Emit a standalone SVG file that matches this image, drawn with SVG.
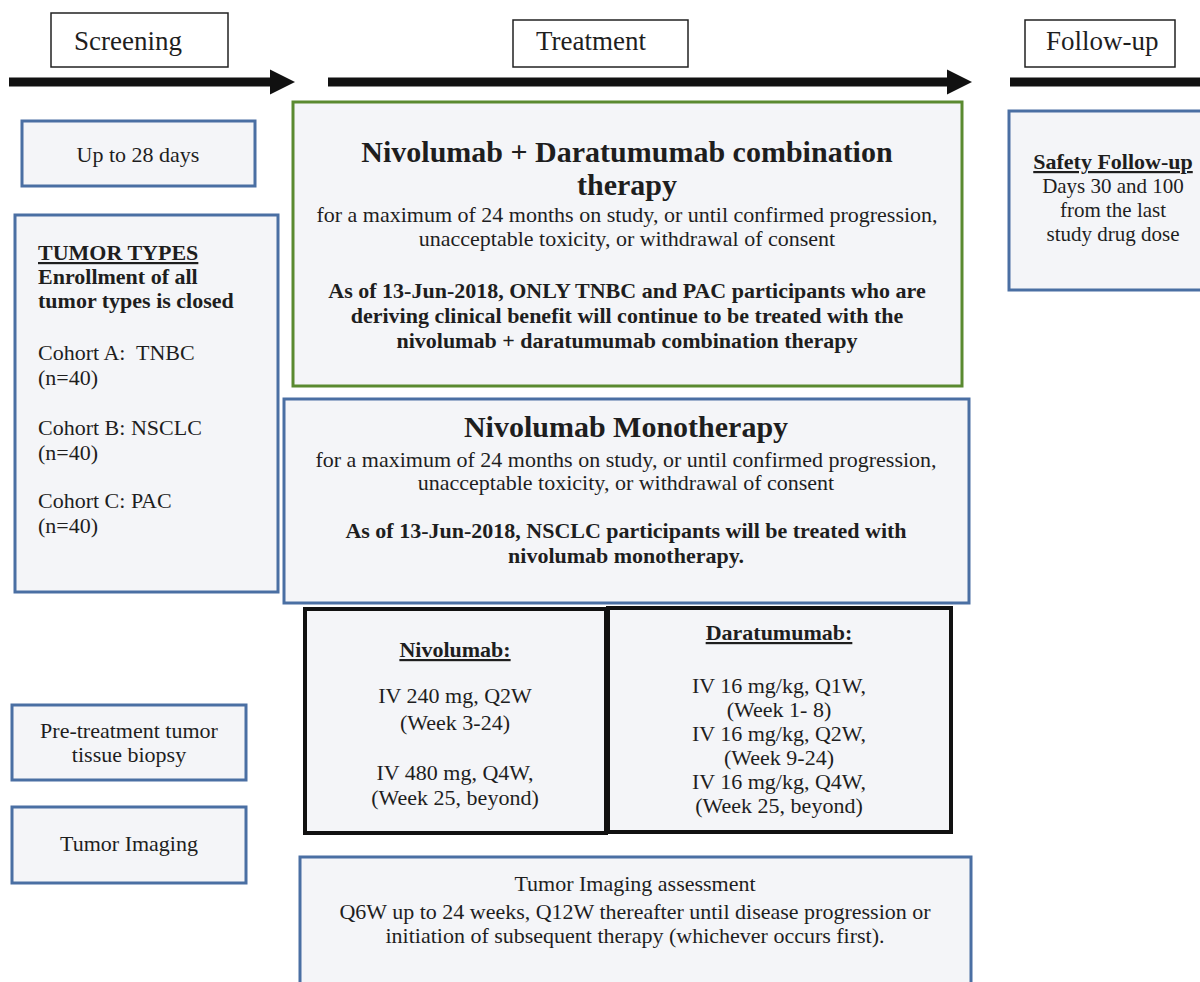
<svg xmlns="http://www.w3.org/2000/svg" width="1200" height="982" viewBox="0 0 1200 982">
<style>
text{font-family:"Liberation Serif","Times New Roman",serif;fill:#1e1e1e}
.h{font-size:27px}
.t{font-size:22px}
.s{font-size:21px}
.tb{font-size:22px;font-weight:bold}
.ti{font-size:30px;font-weight:bold}
.c{text-anchor:middle}
.u{text-decoration:underline}
.hdr{fill:#fff;stroke:#222;stroke-width:1.5}
.blue{fill:#f4f5f8;stroke:#4a6fa3;stroke-width:3}
.green{fill:#f4f5f8;stroke:#5a8a30;stroke-width:3}
.blk{fill:#f4f5f8;stroke:#111;stroke-width:4}
.arr{stroke:#111;stroke-width:9;fill:none}
</style>
<defs>
<marker id="ah" viewBox="0 0 10 10" refX="0" refY="5" markerWidth="2.8" markerHeight="2.8" orient="auto" markerUnits="strokeWidth">
<path d="M0,0 L10,5 L0,10 z" fill="#111"/>
</marker>
</defs>
<rect width="1200" height="982" fill="#fff"/>

<g id="connectors">
<line class="arr" x1="9" y1="82" x2="270" y2="82" marker-end="url(#ah)"/>
<line class="arr" x1="328" y1="82" x2="947" y2="82" marker-end="url(#ah)"/>
<line class="arr" x1="1010" y1="82" x2="1200" y2="82"/>
</g>

<g id="screening">
<rect class="hdr" x="51" y="13" width="177" height="54"/>
<text class="h" x="74" y="50">Screening</text>
</g>
<g id="treatment">
<rect class="hdr" x="513" y="20" width="175" height="47"/>
<text class="h" x="536" y="50">Treatment</text>
</g>
<g id="followup">
<rect class="hdr" x="1025" y="20" width="150" height="47"/>
<text class="h" x="1046" y="50">Follow-up</text>
</g>

<g id="upto28">
<rect class="blue" x="22" y="121" width="233" height="65"/>
<text class="t c" x="138" y="162">Up to 28 days</text>
</g>

<g id="tumortypes">
<rect class="blue" x="15" y="215" width="263" height="377"/>
<text class="tb u" x="38" y="260">TUMOR TYPES</text>
<text class="tb" x="38" y="284">Enrollment of all</text>
<text class="tb" x="38" y="308">tumor types is closed</text>
<text class="t" x="38" y="360" xml:space="preserve">Cohort A:  TNBC</text>
<text class="t" x="38" y="385">(n=40)</text>
<text class="t" x="38" y="435">Cohort B: NSCLC</text>
<text class="t" x="38" y="460">(n=40)</text>
<text class="t" x="38" y="508">Cohort C: PAC</text>
<text class="t" x="38" y="533">(n=40)</text>
</g>

<g id="pretreatment">
<rect class="blue" x="12" y="705" width="234" height="75"/>
<text class="t c" x="129" y="738">Pre-treatment tumor</text>
<text class="t c" x="129" y="762">tissue biopsy</text>
</g>

<g id="tumorimaging">
<rect class="blue" x="12" y="807" width="234" height="76"/>
<text class="t c" x="129" y="851">Tumor Imaging</text>
</g>

<g id="combination">
<rect class="green" x="293" y="102" width="669" height="284"/>
<text class="ti c" x="627" y="162">Nivolumab + Daratumumab combination</text>
<text class="ti c" x="627" y="195">therapy</text>
<text class="t c" x="627" y="222">for a maximum of 24 months on study, or until confirmed progression,</text>
<text class="t c" x="627" y="246">unacceptable toxicity, or withdrawal of consent</text>
<text class="tb c" x="627" y="298">As of 13-Jun-2018, ONLY TNBC and PAC participants who are</text>
<text class="tb c" x="627" y="323">deriving clinical benefit will continue to be treated with the</text>
<text class="tb c" x="627" y="348">nivolumab + daratumumab combination therapy</text>
</g>

<g id="monotherapy">
<rect class="blue" x="284" y="399" width="685" height="204"/>
<text class="ti c" x="626" y="437">Nivolumab Monotherapy</text>
<text class="t c" x="626" y="467">for a maximum of 24 months on study, or until confirmed progression,</text>
<text class="t c" x="626" y="490">unacceptable toxicity, or withdrawal of consent</text>
<text class="tb c" x="626" y="538">As of 13-Jun-2018, NSCLC participants will be treated with</text>
<text class="tb c" x="626" y="563">nivolumab monotherapy.</text>
</g>

<g id="nivolumab">
<rect class="blk" x="305" y="609" width="301" height="224"/>
<text class="tb c u" x="455" y="657">Nivolumab:</text>
<text class="t c" x="455" y="703">IV 240 mg, Q2W</text>
<text class="t c" x="455" y="730">(Week 3-24)</text>
<text class="t c" x="455" y="780">IV 480 mg, Q4W,</text>
<text class="t c" x="455" y="805">(Week 25, beyond)</text>
</g>

<g id="daratumumab">
<rect class="blk" x="608" y="608" width="343" height="224"/>
<text class="tb c u" x="779" y="640">Daratumumab:</text>
<text class="t c" x="779" y="693">IV 16 mg/kg, Q1W,</text>
<text class="t c" x="779" y="717">(Week 1- 8)</text>
<text class="t c" x="779" y="741">IV 16 mg/kg, Q2W,</text>
<text class="t c" x="779" y="765">(Week 9-24)</text>
<text class="t c" x="779" y="789">IV 16 mg/kg, Q4W,</text>
<text class="t c" x="779" y="813">(Week 25, beyond)</text>
</g>

<g id="imagingassessment">
<rect class="blue" x="300" y="857" width="671" height="140"/>
<text class="t c" x="635" y="891">Tumor Imaging assessment</text>
<text class="t c" x="635" y="919">Q6W up to 24 weeks, Q12W thereafter until disease progression or</text>
<text class="t c" x="635" y="943">initiation of subsequent therapy (whichever occurs first).</text>
</g>

<g id="safety">
<rect class="blue" x="1009" y="111" width="200" height="179"/>
<text class="tb c u" x="1113" y="169">Safety Follow-up</text>
<text class="s c" x="1113" y="193">Days 30 and 100</text>
<text class="s c" x="1113" y="217">from the last</text>
<text class="s c" x="1113" y="241">study drug dose</text>
</g>
</svg>
